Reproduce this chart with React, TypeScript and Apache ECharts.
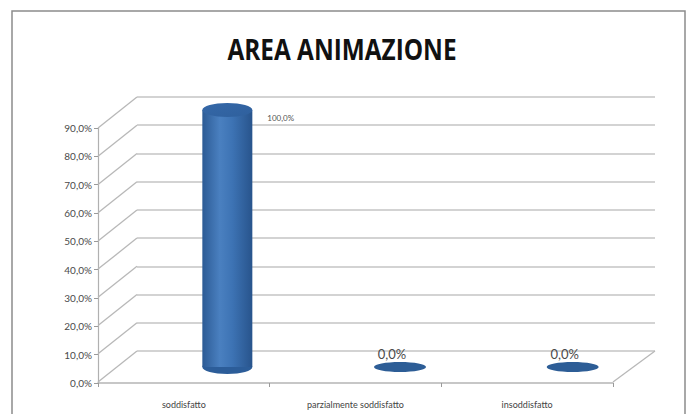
import React, { useEffect, useRef } from "react";
import * as echarts from "echarts";

const categories = ["soddisfatto", "parzialmente soddisfatto", "insoddisfatto"];
const values = [1.0, 0.0, 0.0];
const axisMax = 0.9;
const axisStep = 0.1;
const gridValues = [0, 0.1, 0.2, 0.3, 0.4, 0.5, 0.6, 0.7, 0.8, 0.9];
const titleText = "AREA ANIMAZIONE";

const fmtPct = (v: number) => (v * 100).toFixed(1).replace(".", ",") + "%";

export default function App() {
  const ref = useRef<HTMLDivElement>(null);
  useEffect(() => {
    if (!ref.current) return;
    const chart = echarts.init(ref.current, null, { renderer: "svg" });
    const DX = -39;
    const DY = 31;
    const option: any = {
      animation: false,
      backgroundColor: "#ffffff",
      graphic: [
        {
          type: "rect",
          shape: { x: 12, y: 11, width: 673, height: 420 },
          style: { fill: "none", stroke: "#8c8c8c", lineWidth: 1.5 },
          silent: true,
        },
        {
          type: "text",
          x: 342,
          y: 49,
          scaleX: 0.87,
          silent: true,
          style: {
            text: titleText,
            align: "center",
            verticalAlign: "middle",
            fontFamily: "Open Sans",
            fontWeight: "bold",
            fontSize: 28,
            fill: "#111111",
          },
        },
      ],
      grid: [
        { left: 137, top: 97, width: 518, height: 254 },
        { left: 98, top: 128, width: 515, height: 255 },
      ],
      xAxis: [
        {
          gridIndex: 0,
          type: "category",
          data: categories,
          axisLine: { show: false },
          axisTick: { show: false },
          axisLabel: { show: false },
        },
        {
          gridIndex: 1,
          type: "category",
          data: categories,
          axisLine: { show: true, lineStyle: { color: "#b5b5b5", width: 1.5 } },
          axisTick: { show: true, length: 4, lineStyle: { color: "#9a9a9a" } },
          axisLabel: {
            color: "#444444",
            fontSize: 9,
            fontFamily: "Lato",
            margin: 17,
          },
        },
      ],
      yAxis: [
        {
          gridIndex: 0,
          type: "value",
          min: 0,
          max: axisMax,
          interval: axisStep,
          axisLine: { show: false },
          axisTick: { show: false },
          axisLabel: { show: false },
          splitLine: { show: true, lineStyle: { color: "#c4c4c4", width: 1.6 } },
        },
        {
          gridIndex: 1,
          type: "value",
          min: 0,
          max: axisMax,
          interval: axisStep,
          axisLine: { show: true, lineStyle: { color: "#b0b0b0", width: 1.2 } },
          axisTick: { show: true, length: 4, lineStyle: { color: "#9a9a9a" } },
          splitLine: { show: false },
          axisLabel: {
            color: "#4a4a4a",
            fontSize: 10,
            fontFamily: "Lato",
            margin: 6,
            formatter: (v: number) => fmtPct(v),
          },
        },
      ],
      series: [
        {
          type: "custom",
          xAxisIndex: 0,
          yAxisIndex: 0,
          silent: true,
          data: gridValues.map((v) => [0, v]),
          renderItem: (params: any, api: any) => {
            const cs = params.coordSys;
            const v = api.value(1);
            const y = api.coord([0, v])[1];
            const children: any[] = [
              {
                type: "line",
                shape: { x1: cs.x, y1: y, x2: cs.x + DX, y2: y + DY },
                style: { stroke: "#b8b8b8", lineWidth: 1.3 },
              },
            ];
            if (v === 0) {
              children.push({
                type: "line",
                shape: { x1: cs.x + cs.width, y1: y, x2: cs.x + cs.width - 42, y2: y + DY },
                style: { stroke: "#b8b8b8", lineWidth: 1.3 },
              });
            }
            return { type: "group", children };
          },
        },
        {
          type: "custom",
          xAxisIndex: 0,
          yAxisIndex: 0,
          silent: true,
          data: values.map((v, i) => [i, v]),
          renderItem: (params: any, api: any) => {
            const i = api.value(0);
            const v = api.value(1);
            const base = api.coord([i, 0]);
            const top = api.coord([i, Math.min(v, axisMax)]);
            const cx = base[0] + 4;
            const by = base[1] + 16;
            const rx = 25;
            const ry = 7;
            if (v <= 0) {
              return {
                type: "group",
                children: [
                  {
                    type: "ellipse",
                    shape: { cx, cy: by, rx: 26, ry: 5 },
                    style: { fill: "#2d5d96" },
                  },
                  {
                    type: "text",
                    style: {
                      x: cx - 8,
                      y: by - 13,
                      text: fmtPct(v),
                      fill: "#4a4a4a",
                      fontSize: 13,
                      fontFamily: "Lato",
                      align: "center",
                      verticalAlign: "middle",
                    },
                  },
                ],
              };
            }
            const ty = top[1] + 13;
            return {
              type: "group",
              children: [
                {
                  type: "ellipse",
                  shape: { cx, cy: by, rx, ry },
                  style: { fill: "#2c5d99" },
                },
                {
                  type: "rect",
                  shape: { x: cx - rx, y: ty, width: rx * 2, height: by - ty },
                  style: {
                    fill: new echarts.graphic.LinearGradient(0, 0, 1, 0, [
                      { offset: 0, color: "#2c5b95" },
                      { offset: 0.35, color: "#4a80c0" },
                      { offset: 0.6, color: "#3d73b4" },
                      { offset: 1, color: "#28548c" },
                    ]),
                  },
                },
                {
                  type: "ellipse",
                  shape: { cx, cy: ty, rx, ry },
                  style: {
                    fill: new echarts.graphic.LinearGradient(0, 0, 1, 1, [
                      { offset: 0, color: "#3568a8" },
                      { offset: 1, color: "#2f609d" },
                    ]),
                  },
                },
                {
                  type: "text",
                  style: {
                    x: cx + rx + 15,
                    y: ty + 8,
                    text: fmtPct(v),
                    fill: "#555555",
                    fontSize: 8,
                    fontFamily: "Lato",
                    align: "left",
                    verticalAlign: "middle",
                  },
                },
              ],
            };
          },
        },
      ],
    };
    chart.setOption(option);
    return () => chart.dispose();
  }, []);
  return (
    <div
      ref={ref}
      style={{ position: "absolute", left: 0, top: 0, width: 689, height: 414 }}
    />
  );
}
